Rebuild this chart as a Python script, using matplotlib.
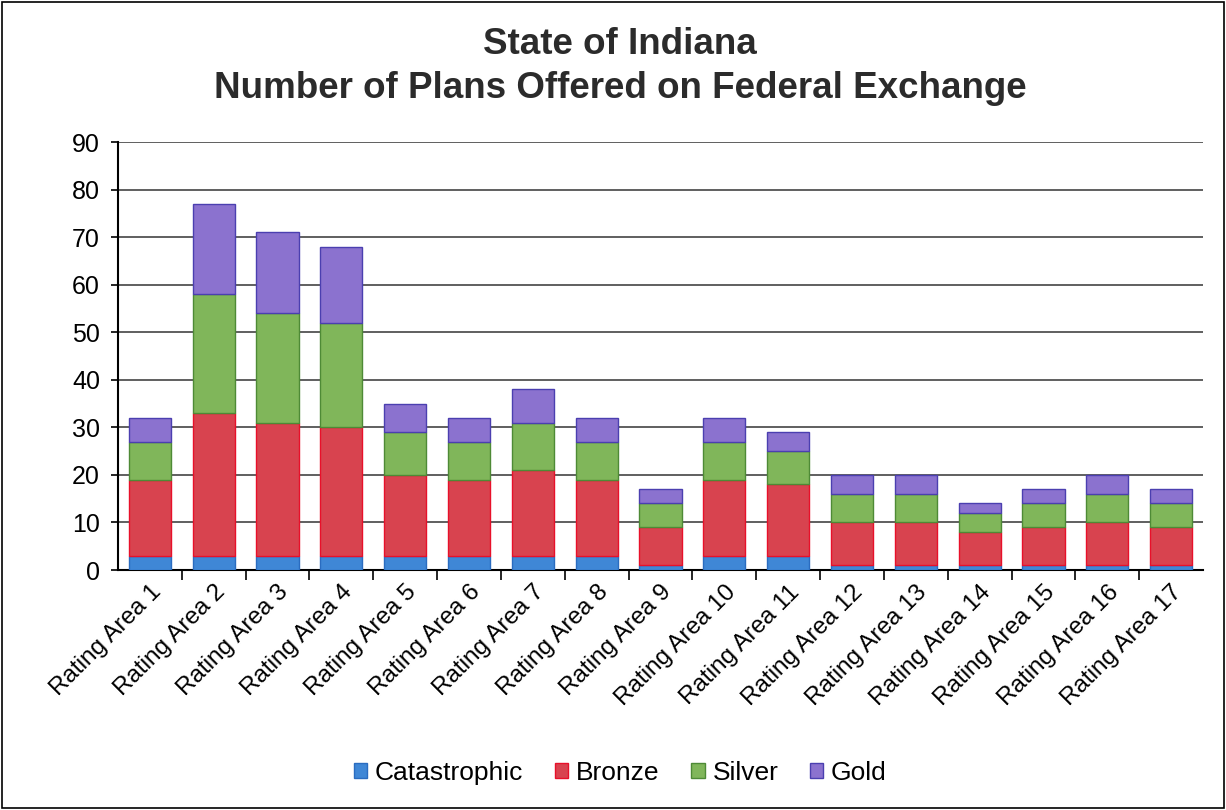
import matplotlib

matplotlib.use("Agg")
import matplotlib.pyplot as plt  # noqa: E402
import numpy as np  # noqa: E402
from matplotlib.patches import Rectangle  # noqa: E402

plt.rcParams["font.family"] = ["Liberation Sans", "DejaVu Sans"]

AREAS = [f"Rating Area {i}" for i in range(1, 18)]
CATASTROPHIC = [3, 3, 3, 3, 3, 3, 3, 3, 1, 3, 3, 1, 1, 1, 1, 1, 1]
BRONZE = [16, 30, 28, 27, 17, 16, 18, 16, 8, 16, 15, 9, 9, 7, 8, 9, 8]
SILVER = [8, 25, 23, 22, 9, 8, 10, 8, 5, 8, 7, 6, 6, 4, 5, 6, 5]
GOLD = [5, 19, 17, 16, 6, 5, 7, 5, 3, 5, 4, 4, 4, 2, 3, 4, 3]

SERIES = [("Catastrophic", CATASTROPHIC, "#3f87d6", "#2a6cc0"),
          ("Bronze", BRONZE, "#d8434f", "#e8102a"),
          ("Silver", SILVER, "#80b65a", "#4e8a36"),
          ("Gold", GOLD, "#8b72cf", "#4b3fb0")]

fig = plt.figure(figsize=(12.26, 8.1), dpi=100)
ax = fig.add_axes([118 / 1226, 1 - 570 / 810, (1203 - 118) / 1226, (570 - 142) / 810])

x = np.arange(len(AREAS))
bottom = np.zeros(len(AREAS))
for name, vals, color, edge in SERIES:
    ax.bar(x, vals, width=0.66, bottom=bottom, color=color, edgecolor=edge, lw=1.0,
           label=name, zorder=3)
    bottom += np.array(vals)

ax.set_xlim(-0.5, len(AREAS) - 0.5)
ax.set_ylim(0, 90)
ax.set_yticks(range(0, 91, 10))
ax.yaxis.grid(True, color="#444444", lw=1.2, zorder=0)
ax.set_axisbelow(True)
ax.tick_params(axis="y", labelsize=18, length=5, width=1.2, direction="out", pad=8)

ax.set_xticks(x)
ax.set_xticklabels(AREAS, rotation=45, ha="right", rotation_mode="anchor", fontsize=17.5)
ax.tick_params(axis="x", length=0, pad=8)
ax.set_xticks(np.arange(0.5, len(AREAS) - 0.5, 1), minor=True)
ax.tick_params(axis="x", which="minor", length=7, width=1.2, direction="out")

for side in ("top", "right"):
    ax.spines[side].set_visible(False)
ax.spines["left"].set_linewidth(1.5)
ax.spines["bottom"].set_linewidth(1.5)

fig.text(0.506, 1 - 45 / 810, "State of Indiana", ha="center", va="center",
         fontsize=26.5, fontweight="bold", color="#2b2b2b")
fig.text(0.506, 1 - 88 / 810, "Number of Plans Offered on Federal Exchange", ha="center",
         va="center", fontsize=26.5, fontweight="bold", color="#2b2b2b")

fig.legend(loc="center", bbox_to_anchor=(0.506, 1 - 773 / 810), ncol=4, frameon=False,
           fontsize=19, handlelength=0.5, handleheight=0.5, handletextpad=0.3,
           columnspacing=1.2)

fig.patches.append(Rectangle((0.002, 0.002), 0.996, 0.996, transform=fig.transFigure,
                             fill=False, edgecolor="black", lw=1.2))

fig.savefig("out.png", dpi=100)
